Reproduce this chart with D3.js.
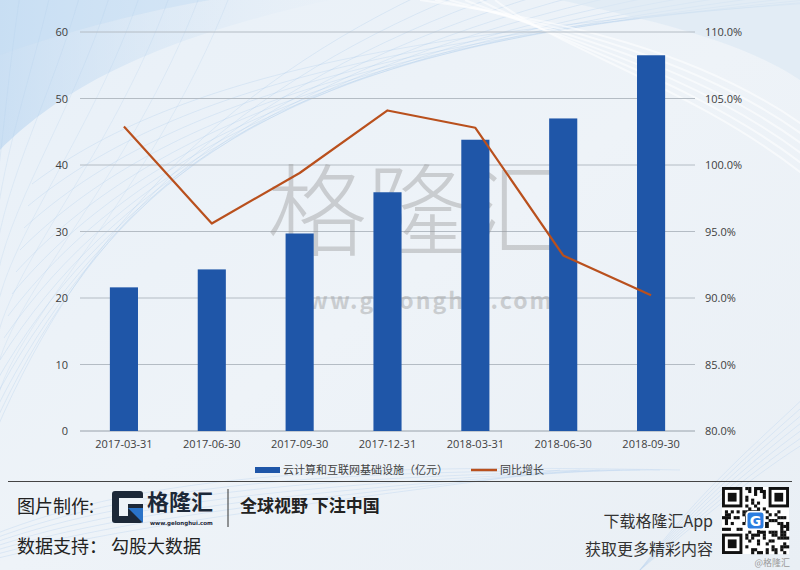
<!DOCTYPE html>
<html><head><meta charset="utf-8">
<script src="https://cdn.jsdelivr.net/npm/d3@7/dist/d3.min.js"></script>
<style>body{margin:0;padding:0;overflow:hidden}svg{display:block}</style>
</head><body>
<script>
const categories = ["2017-03-31","2017-06-30","2017-09-30","2017-12-31","2018-03-31","2018-06-30","2018-09-30"];
const revenue = [21.6, 24.3, 29.7, 35.9, 43.8, 47.0, 56.5];
const growth = [102.9, 95.6, 99.4, 104.1, 102.8, 93.2, 90.2];
const leftTicks = [0,10,20,30,40,50,60];
const rightTicks = [80,85,90,95,100,105,110];
const seriesNames = ["云计算和互联网基础设施（亿元）","同比增长"];

const W=800,H=570;
const font = "'Noto Sans CJK SC','Open Sans',sans-serif";
const svg = d3.select("body").append("svg").attr("width",W).attr("height",H);
const defs = svg.append("defs");
const bg = defs.append("linearGradient").attr("id","bg").attr("x1",0).attr("y1",0).attr("x2",1).attr("y2",1);
bg.append("stop").attr("offset","0").attr("stop-color","#e8f0f8");
bg.append("stop").attr("offset","0.5").attr("stop-color","#eef3f8");
bg.append("stop").attr("offset","1").attr("stop-color","#e9eff5");
svg.append("rect").attr("width",W).attr("height",H).attr("fill","url(#bg)");

// decorative swooshes
const deco = svg.append("g").attr("fill","none");
const fan = defs.append("linearGradient").attr("id","fan").attr("x1",0).attr("y1",0).attr("x2",1).attr("y2",0);
fan.append("stop").attr("offset","0").attr("stop-color","#c3dbf2").attr("stop-opacity",0.8);
fan.append("stop").attr("offset","1").attr("stop-color","#dce9f6").attr("stop-opacity",0.1);
deco.append("path").attr("d","M0,150 C60,90 150,40 330,0 L0,0 Z").attr("fill","url(#fan)");
deco.append("path").attr("d","M0,55 C70,30 150,10 210,0 L0,0 Z").attr("fill","#c6ddf3").attr("opacity",0.5);
for(let i=0;i<14;i++){
  deco.append("path").attr("d",`M${-20+i*4},${470-i*22} C${60+i*10},${260-i*15} ${200+i*20},${100-i*6} ${420+i*40},${-5}`)
    .attr("stroke","#a6c7e8").attr("stroke-width",0.6).attr("opacity",0.45);
}
for(let i=0;i<8;i++){
  deco.append("path").attr("d",`M${20+i*30},${-5} C${10+i*20},${60+i*20} ${5},${120+i*30} ${-5},${200+i*30}`)
    .attr("stroke","#afcdea").attr("stroke-width",0.6).attr("opacity",0.4);
}
for(let i=0;i<6;i++){
  deco.append("path").attr("d",`M${420+i*15},0 C${560},${20+i*6} ${700},${50+i*8} ${810},${130+i*10}`)
    .attr("stroke","#ffffff").attr("stroke-width",2).attr("opacity",0.55);
}
deco.append("path").attr("d","M560,0 C650,20 740,40 800,80 L800,0 Z").attr("fill","#dbe8f4").attr("opacity",0.6);
for(let i=0;i<7;i++){
  deco.append("path").attr("d",`M${-10},${560-i*4} C${150},${520-i*8} ${350},${500-i*6} ${560+i*20},${470}`)
    .attr("stroke","#c4daf0").attr("stroke-width",0.8).attr("opacity",0.6);
  deco.append("path").attr("d",`M${640},${570} C${700},${520-i*5} ${760},${470-i*5} ${810},${440-i*8}`)
    .attr("stroke","#c4daf0").attr("stroke-width",0.8).attr("opacity",0.6);
}

const x = d3.scaleBand().domain(categories).range([80,695]).paddingInner(0.68).paddingOuter(0.34);
const xp = d3.scalePoint().domain(categories).range([80,695]).padding(0.5);
const yL = d3.scaleLinear().domain([0,60]).range([431,32]);
const yR = d3.scaleLinear().domain([80,110]).range([431,32]);

// gridlines
svg.append("g").selectAll("line").data(leftTicks).join("line")
  .attr("x1",80).attr("x2",695).attr("y1",d=>yL(d)).attr("y2",d=>yL(d))
  .attr("stroke","#b4bcc4").attr("stroke-width",1);

// watermark
const wm = svg.append("g").attr("font-family",font).attr("fill","#9a9a9a").attr("opacity",0.42);
wm.append("text").attr("x",417).attr("y",248).attr("text-anchor","middle").attr("font-size",100).attr("font-weight",300).text("格隆汇");
wm.append("text").attr("x",420).attr("y",309).attr("text-anchor","middle").attr("font-size",23).attr("font-weight",700).attr("letter-spacing",2).text("www.gelonghui.com");

// axes
const axL = d3.axisLeft(yL).tickValues(leftTicks).tickSize(0).tickPadding(12);
const gL = svg.append("g").attr("transform","translate(80,0)").call(axL);
const axR = d3.axisRight(yR).tickValues(rightTicks).tickSize(0).tickPadding(10).tickFormat(d=>d.toFixed(1)+"%");
const gR = svg.append("g").attr("transform","translate(695,0)").call(axR);
const axB = d3.axisBottom(x).tickSize(0).tickPadding(9);
const gB = svg.append("g").attr("transform","translate(0,431)").call(axB);
[gL,gR,gB].forEach(g=>{g.select(".domain").remove();g.selectAll("text").attr("font-family","'Open Sans',sans-serif").attr("font-size",11).attr("fill","#404040");});
svg.append("line").attr("x1",80).attr("x2",695).attr("y1",431).attr("y2",431).attr("stroke","#b4bcc4");

// bars
svg.append("g").selectAll("rect").data(revenue).join("rect")
  .attr("x",(d,i)=>x(categories[i])).attr("width",x.bandwidth())
  .attr("y",d=>yL(d)).attr("height",d=>yL(0)-yL(d))
  .attr("fill","#1f56a8");

// line
const line = d3.line().x((d,i)=>xp(categories[i])).y(d=>yR(d));
svg.append("path").datum(growth).attr("d",line).attr("fill","none")
  .attr("stroke","#b9501d").attr("stroke-width",2.2).attr("stroke-linejoin","round");

// legend
const lg = svg.append("g").attr("font-family",font).attr("font-size",11).attr("fill","#404040");
lg.append("rect").attr("x",255).attr("y",467).attr("width",25).attr("height",6).attr("fill","#1f56a8");
lg.append("text").attr("x",283).attr("y",474).text(seriesNames[0]);
lg.append("line").attr("x1",471).attr("x2",497).attr("y1",470).attr("y2",470).attr("stroke","#b9501d").attr("stroke-width",2.5);
lg.append("text").attr("x",500).attr("y",474).text(seriesNames[1]);

// footer
svg.append("line").attr("x1",8).attr("x2",792).attr("y1",481.5).attr("y2",481.5).attr("stroke","#444").attr("stroke-width",1.2);
const ft = svg.append("g").attr("font-family",font).attr("fill","#222");
ft.append("text").attr("x",17).attr("y",513).attr("font-size",18).text("图片制作:");
// logo
const lgG = ft.append("g").attr("transform","translate(112,491)");
lgG.append("rect").attr("width",31).attr("height",32).attr("rx",3).attr("fill","#1c2838");
lgG.append("rect").attr("x",7).attr("y",7).attr("width",24).attr("height",6).attr("fill","#eef3f8");
lgG.append("rect").attr("x",7).attr("y",13).attr("width",9).attr("height",12).attr("fill","#eef3f8");
lgG.append("path").attr("d","M16,17 L31,17 L31,32 Z").attr("fill","#2a73c8");
ft.append("text").attr("x",147).attr("y",510).attr("font-size",22).attr("font-weight",700).attr("fill","#1c2838").text("格隆汇");
ft.append("text").attr("x",150).attr("y",525).attr("font-size",5.5).attr("font-weight",700).attr("fill","#1c2838").attr("font-family","'DejaVu Sans',sans-serif").text("www.gelonghui.com");
ft.append("line").attr("x1",228).attr("x2",228).attr("y1",489).attr("y2",527).attr("stroke","#333").attr("stroke-width",1);
ft.append("text").attr("x",240).attr("y",512).attr("font-size",17).attr("font-weight",700).text("全球视野 下注中国");
ft.append("text").attr("x",17).attr("y",553).attr("font-size",18).text("数据支持：  勾股大数据");
ft.append("text").attr("x",713).attr("y",527).attr("text-anchor","end").attr("font-size",16).attr("fill","#333").text("下载格隆汇App");
ft.append("text").attr("x",713).attr("y",555).attr("text-anchor","end").attr("font-size",16).attr("fill","#333").text("获取更多精彩内容");

// QR-like decoration
const qr = svg.append("g").attr("transform","translate(722,487)");
qr.append("rect").attr("width",67).attr("height",67).attr("fill","#fff");
const n=23, cs=67/n;
const cells=[];
for(let r=0;r<n;r++)for(let c=0;c<n;c++){
  const inFinder=(r<8&&c<8)||(r<8&&c>=n-8)||(r>=n-8&&c<8);
  if(inFinder) continue;
  const h=((r*31+c*17+r*c*7)^(r*13+c*5))%5;
  if(h<2) cells.push([r,c]);
}
qr.selectAll("rect.c").data(cells).join("rect").attr("class","c")
  .attr("x",d=>d[1]*cs).attr("y",d=>d[0]*cs).attr("width",cs+0.2).attr("height",cs+0.2).attr("fill","#111");
[[0,0],[0,n-7],[n-7,0]].forEach(([r,c])=>{
  qr.append("rect").attr("x",c*cs+cs/2).attr("y",r*cs+cs/2).attr("width",6*cs).attr("height",6*cs).attr("fill","none").attr("stroke","#111").attr("stroke-width",cs);
  qr.append("rect").attr("x",(c+2)*cs).attr("y",(r+2)*cs).attr("width",3*cs).attr("height",3*cs).attr("fill","#111");
});
qr.append("rect").attr("x",24).attr("y",24).attr("width",19).attr("height",19).attr("rx",3).attr("fill","#fff");
qr.append("rect").attr("x",25.5).attr("y",25.5).attr("width",16).attr("height",16).attr("rx",2.5).attr("fill","#2b7de0");
qr.append("text").attr("x",33.5).attr("y",38.5).attr("text-anchor","middle").attr("font-size",14).attr("font-weight",700).attr("fill","#fff").attr("font-family","'DejaVu Sans',sans-serif").text("G");
svg.append("text").attr("x",790).attr("y",566).attr("text-anchor","end").attr("font-size",9).attr("fill","#999").attr("font-family",font).text("@格隆汇");
</script>
</body></html>
